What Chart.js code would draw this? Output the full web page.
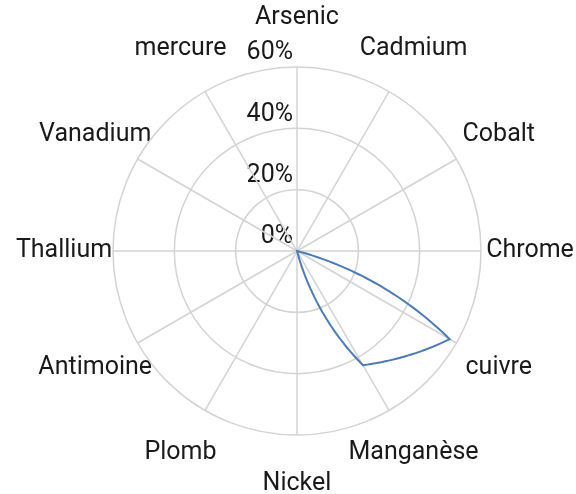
<!DOCTYPE html>
<html lang="fr">
  <head>
    <meta charset="UTF-8" />
    <title>Radar</title>
    <script src="https://cdn.jsdelivr.net/npm/chart.js"></script>
    <style>
      body { margin: 0; background: #fff; }
      #wrap { width: 576px; height: 494px; position: relative; }
    </style>
  </head>
  <body>
    <div id="wrap"><canvas id="myChart"></canvas></div>
    <script>
      // categories going clockwise from the top
      const categories = ["Arsenic", "Cadmium", "Cobalt", "Chrome", "cuivre", "Manganèse",
        "Nickel", "Plomb", "Antimoine", "Thallium", "Vanadium", "mercure"];
      // values in %
      const values = [0, 0, 0, 0, 57.5, 43, 0, 0, 0, 0, 0, 0];
      const tickValues = [0, 20, 40, 60];

      // draws the category names and the % ticks (before grid, so lines sit on top)
      const labelPlugin = {
        id: "labels",
        beforeDraw(chart) {
          const scale = chart.scales.r;
          const ctx = chart.ctx;
          ctx.save();
          ctx.font = "25px Roboto";
          ctx.fillStyle = "#1a1a1a";
          ctx.textAlign = "center";
          ctx.textBaseline = "middle";
          categories.forEach((name, i) => {
            const p = scale.getPointPosition(i, scale.drawingArea + 49);
            ctx.fillText(name, p.x, p.y);
          });
          ctx.textAlign = "right";
          tickValues.forEach((v) => {
            const d = scale.getDistanceFromCenterForValue(v);
            ctx.fillText(v + "%", scale.xCenter - 4, scale.yCenter - d - 14);
          });
          ctx.restore();
        },
      };

      // smoothed segments: half straight chord, half polar (radius follows angle)
      const polarLinePlugin = {
        id: "polarLine",
        afterDatasetsDraw(chart) {
          const scale = chart.scales.r;
          const ctx = chart.ctx;
          const data = chart.data.datasets[0].data;
          const n = data.length;
          const dist = (v) => scale.getDistanceFromCenterForValue(v);
          ctx.save();
          ctx.strokeStyle = "#4a7cb9";
          ctx.lineWidth = 2;
          ctx.beginPath();
          for (let i = 0; i < n; i++) {
            const a = data[i];
            const b = data[(i + 1) % n];
            const pa = scale.getPointPosition(i, dist(a));
            const pb = scale.getPointPosition(i + 1, dist(b));
            for (let s = 0; s <= 40; s++) {
              const t = s / 40;
              const ps = scale.getPointPosition(i + t, dist(a + (b - a) * t));
              const x = (ps.x + pa.x + (pb.x - pa.x) * t) / 2;
              const y = (ps.y + pa.y + (pb.y - pa.y) * t) / 2;
              if (i === 0 && s === 0) ctx.moveTo(x, y);
              else ctx.lineTo(x, y);
            }
          }
          ctx.closePath();
          ctx.stroke();
          ctx.restore();
        },
      };

      new Chart(document.getElementById("myChart"), {
        type: "radar",
        data: {
          labels: categories,
          datasets: [
            {
              label: "valeurs",
              data: values,
              borderColor: "rgba(0,0,0,0)",
              borderWidth: 0,
              fill: false,
              pointRadius: 0,
            },
          ],
        },
        options: {
          responsive: true,
          maintainAspectRatio: false,
          animation: false,
          layout: { padding: { left: 113, right: 95, top: 67, bottom: 59 } },
          plugins: { legend: { display: false }, tooltip: { enabled: false } },
          scales: {
            r: {
              min: 0,
              max: 60,
              ticks: { display: false, stepSize: 20 },
              pointLabels: { display: false },
              grid: { circular: true, color: "#d3d3d3", lineWidth: 1.5 },
              angleLines: { color: "#d3d3d3", lineWidth: 1.5 },
            },
          },
        },
        plugins: [labelPlugin, polarLinePlugin],
      });
    </script>
  </body>
</html>
